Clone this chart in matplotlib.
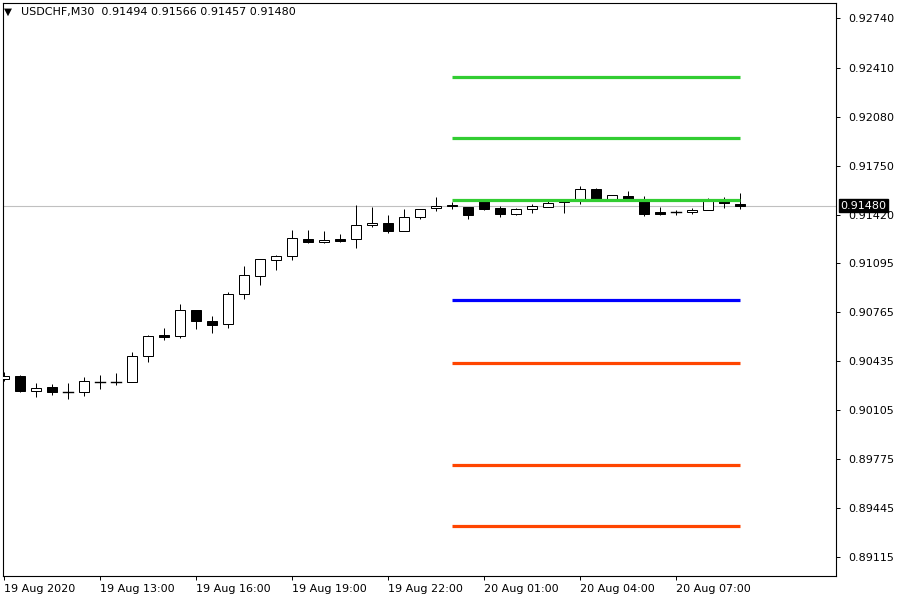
import numpy as np
import pandas as pd
import matplotlib
matplotlib.use("Agg")
import matplotlib.pyplot as plt
from matplotlib.patches import Rectangle
from matplotlib.transforms import blended_transform_factory

# USDCHF M30, 47 Kerzen ab 19 Aug 10:00
symbol = "USDCHF,M30"
bar_times = pd.date_range("2020-08-19 10:00", periods=47, freq="30min")

opens = [0.90315, 0.90335, 0.90236, 0.90259, 0.90225, 0.90230, 0.90298, 0.90298,
         0.90297, 0.90470, 0.90611, 0.90606, 0.90777, 0.90705, 0.90683, 0.90885,
         0.91006, 0.91113, 0.91140, 0.91254, 0.91234, 0.91254, 0.91254, 0.91349,
         0.91362, 0.91308, 0.91402, 0.91463, 0.91487, 0.91470, 0.91510, 0.91463,
         0.91427, 0.91460, 0.91470, 0.91503, 0.91523, 0.91593, 0.91517, 0.91546,
         0.91517, 0.91438, 0.91436, 0.91436, 0.91449, 0.91519, 0.91494]
highs = [0.90362, 0.90342, 0.90288, 0.90281, 0.90288, 0.90328, 0.90342, 0.90355,
         0.90497, 0.90611, 0.90660, 0.90819, 0.90777, 0.90739, 0.90898, 0.91075,
         0.91120, 0.91149, 0.91315, 0.91315, 0.91308, 0.91288, 0.91485, 0.91472,
         0.91416, 0.91456, 0.91456, 0.91537, 0.91503, 0.91470, 0.91517, 0.91478,
         0.91465, 0.91490, 0.91525, 0.91523, 0.91613, 0.91599, 0.91550, 0.91579,
         0.91546, 0.91472, 0.91451, 0.91463, 0.91530, 0.91539, 0.91566]
lows = [0.90302, 0.90230, 0.90196, 0.90209, 0.90178, 0.90203, 0.90246, 0.90278,
        0.90297, 0.90431, 0.90574, 0.90593, 0.90653, 0.90626, 0.90660, 0.90855,
        0.90950, 0.91045, 0.91117, 0.91228, 0.91228, 0.91238, 0.91198, 0.91335,
        0.91299, 0.91308, 0.91389, 0.91448, 0.91458, 0.91393, 0.91451, 0.91406,
        0.91420, 0.91433, 0.91470, 0.91433, 0.91490, 0.91510, 0.91510, 0.91510,
        0.91413, 0.91420, 0.91420, 0.91423, 0.91449, 0.91467, 0.91457]
closes = [0.90335, 0.90236, 0.90252, 0.90230, 0.90226, 0.90300, 0.90298, 0.90298,
          0.90470, 0.90604, 0.90599, 0.90777, 0.90703, 0.90680, 0.90885, 0.91012,
          0.91120, 0.91142, 0.91261, 0.91238, 0.91248, 0.91245, 0.91349, 0.91362,
          0.91308, 0.91402, 0.91456, 0.91476, 0.91476, 0.91416, 0.91458, 0.91427,
          0.91456, 0.91476, 0.91499, 0.91523, 0.91591, 0.91514, 0.91550, 0.91517,
          0.91427, 0.91427, 0.91436, 0.91449, 0.91517, 0.91497, 0.91480]

# Linien ab 20 Aug 00:00 bis zur letzten Kerze
green_levels = [0.92346, 0.91936, 0.91519]
blue_levels = [0.90846]
red_levels = [0.90423, 0.89737, 0.89326]
level_start = pd.Timestamp("2020-08-20 00:00")

y_ticks = [0.92740, 0.92410, 0.92080, 0.91750, 0.91420, 0.91095,
           0.90765, 0.90435, 0.90105, 0.89775, 0.89445, 0.89115]
x_labels = ["19 Aug 2020", "19 Aug 13:00", "19 Aug 16:00", "19 Aug 19:00",
            "19 Aug 22:00", "20 Aug 01:00", "20 Aug 04:00", "20 Aug 07:00"]

W, H = 900, 600
fig = plt.figure(figsize=(9, 6), dpi=100)
left, right, top, bottom = 2.7, 836, 2.7, 576
ax = fig.add_axes([left / W, 1 - bottom / H, (right - left) / W, (bottom - top) / H])

n = len(opens)
x = np.arange(n)
bar_px = 16.0
x0 = -0.05
ax.set_xlim(x0, x0 + (right - left) / bar_px)
ax.set_ylim(0.88990, 0.92846)

# Kerzen
body_w = 10 / bar_px
lw = 0.72
for i in range(n):
    o, h, l, c = opens[i], highs[i], lows[i], closes[i]
    ax.plot([x[i], x[i]], [l, h], color="black", lw=lw, zorder=2, solid_capstyle="butt")
    lo, hi = min(o, c), max(o, c)
    if hi - lo < 0.00003:
        ax.plot([x[i] - body_w / 2, x[i] + body_w / 2], [o, o], color="black", lw=lw * 1.4, zorder=3)
    else:
        fc = "white" if c >= o else "black"
        ax.add_patch(Rectangle((x[i] - body_w / 2, lo), body_w, hi - lo,
                               facecolor=fc, edgecolor="black", lw=lw, zorder=3))

# aktueller Kurs
ax.axhline(closes[-1], color="#c0c0c0", lw=0.8, zorder=1)

start = list(bar_times).index(level_start)
for lv in green_levels:
    ax.hlines(lv, x[start], x[-1], color="#32cd32", lw=2.3, zorder=4)
for lv in blue_levels:
    ax.hlines(lv, x[start], x[-1], color="#0000ff", lw=2.3, zorder=4)
for lv in red_levels:
    ax.hlines(lv, x[start], x[-1], color="#ff4500", lw=2.3, zorder=4)

# Achsen
ax.yaxis.tick_right()
ax.set_yticks(y_ticks)
ax.set_yticklabels([f"{v:.5f}" for v in y_ticks])
tick_idx = [i for i, t in enumerate(bar_times) if t.minute == 0 and t.hour % 3 == 1]
ax.set_xticks(x[tick_idx])
ax.set_xticklabels(x_labels, ha="left")
ax.tick_params(axis="y", length=3, width=0.7, pad=6, labelsize=8, colors="black")
ax.tick_params(axis="x", length=3, width=0.7, pad=3, labelsize=8, colors="black")
for s in ax.spines.values():
    s.set_linewidth(0.8)
    s.set_color("black")

# Kursbox rechts
tr = blended_transform_factory(ax.transAxes, ax.transData)
ax.text(1.0055, closes[-1], f"{closes[-1]:.5f}", transform=tr, color="white",
        fontsize=8, ha="left", va="center", clip_on=False, zorder=10,
        bbox=dict(boxstyle="square,pad=0.15", facecolor="black", edgecolor="black"))

# Kopfzeile
fig.text(4 / W, 1 - 11.5 / H, "\u25bc", fontsize=7.5, va="center", ha="left")
fig.text(21 / W, 1 - 12 / H,
         f"{symbol}  {opens[-1]:.5f} {highs[-1]:.5f} {lows[-1]:.5f} {closes[-1]:.5f}",
         fontsize=8, va="center", ha="left")

fig.savefig("out.png", dpi=100, facecolor="white")
